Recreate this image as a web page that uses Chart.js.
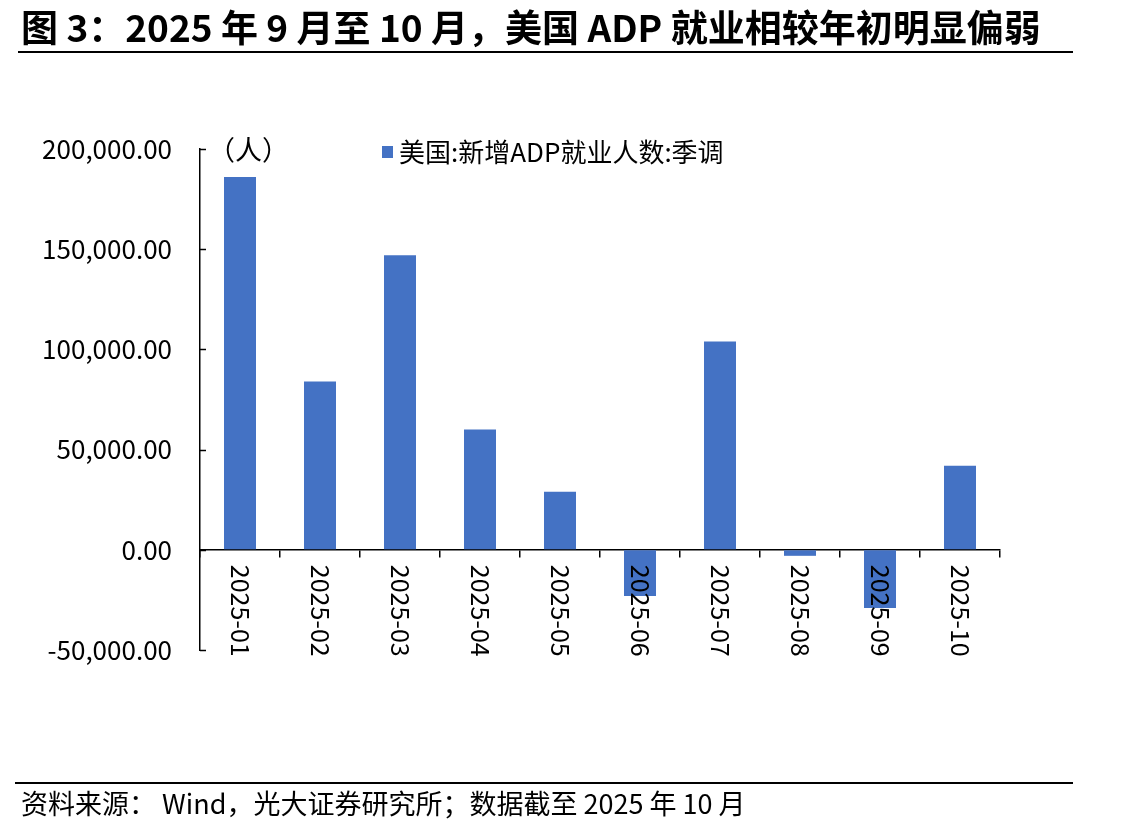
<!DOCTYPE html>
<html>
<head>
<meta charset="utf-8">
<script src="https://cdn.jsdelivr.net/npm/chart.js@4"></script>
<style>
  html, body { margin: 0; padding: 0; background: #fff; }
  #wrap { position: relative; width: 1143px; height: 831px; }
</style>
</head>
<body>
<div id="wrap"><canvas id="barChart" width="1143" height="831"></canvas></div>
<script>
var titleText = '图 3：2025 年 9 月至 10 月，美国 ADP 就业相较年初明显偏弱';
var sourceText = '资料来源： Wind，光大证券研究所；数据截至 2025 年 10 月';
var unitText = '（人）';
var seriesName = '美国:新增ADP就业人数:季调';
var months = ['2025-01', '2025-02', '2025-03', '2025-04', '2025-05', '2025-06', '2025-07', '2025-08', '2025-09', '2025-10'];
var adpChange = [186000, 84000, 147000, 60000, 29000, -23000, 104000, -3000, -29000, 42000];
var yTicks = [-50000, 0, 50000, 100000, 150000, 200000];

var fontCJK = '"Noto Sans CJK SC", "Noto Sans", sans-serif';
var barColor = '#4472C4';

var decor = {
    id: 'decor',
    afterDraw: function (chart) {
        var ctx = chart.ctx;
        var xs = chart.scales.x, ys = chart.scales.y;
        ctx.save();
        ctx.fillStyle = '#000';
        // title
        ctx.font = 'bold 37px ' + fontCJK;
        ctx.textBaseline = 'alphabetic';
        ctx.textAlign = 'left';
        ctx.fillText(titleText, 21, 42);
        ctx.fillRect(18, 51, 1055, 2);
        // footer
        ctx.fillRect(15, 782, 1058, 2);
        ctx.font = '27px ' + fontCJK;
        ctx.fillText(sourceText, 21, 814);
        // unit + legend
        ctx.font = '27px ' + fontCJK;
        ctx.fillText(unitText, 208, 160);
        ctx.fillStyle = barColor;
        ctx.fillRect(382, 146, 11, 12);
        ctx.fillStyle = '#000';
        ctx.font = '26px ' + fontCJK;
        ctx.textBaseline = 'middle';
        ctx.fillText(seriesName, 399, 152);
        // inward ticks on y axis
        ctx.strokeStyle = '#000';
        ctx.lineWidth = 1.5;
        yTicks.forEach(function (v) {
            var py = Math.round(ys.getPixelForValue(v)) + 0.5;
            ctx.beginPath();
            ctx.moveTo(xs.left, py);
            ctx.lineTo(xs.left + 6, py);
            ctx.stroke();
        });
        // x labels, rotated clockwise, hanging below the zero line
        var y0 = ys.getPixelForValue(0);
        ctx.font = '25px ' + fontCJK;
        ctx.textAlign = 'left';
        ctx.textBaseline = 'middle';
        months.forEach(function (m, i) {
            var px = xs.getPixelForValue(i);
            ctx.save();
            ctx.translate(px, y0 + 15);
            ctx.rotate(Math.PI / 2);
            ctx.fillText(m, 0, 0);
            ctx.restore();
        });
        ctx.restore();
    }
};

var ctx = document.getElementById('barChart').getContext('2d');
var myChart = new Chart(ctx, {
    type: 'bar',
    data: {
        labels: months,
        datasets: [{
            label: seriesName,
            data: adpChange,
            backgroundColor: barColor,
            borderWidth: 0,
            categoryPercentage: 1,
            barPercentage: 0.4
        }]
    },
    options: {
        responsive: false,
        animation: false,
        layout: { padding: { left: 0, top: 149, right: 143, bottom: 181 } },
        plugins: { legend: { display: false }, tooltip: { enabled: false } },
        scales: {
            x: {
                position: { y: 0 },
                ticks: { display: false },
                grid: { drawOnChartArea: false, drawTicks: true, tickLength: 7, color: '#000', lineWidth: 1.5 },
                border: { display: true, color: '#000', width: 1.5 }
            },
            y: {
                min: -50000,
                max: 200000,
                afterFit: function (scale) { scale.width = 200; },
                afterBuildTicks: function (scale) {
                    scale.ticks = yTicks.map(function (v) { return { value: v }; });
                },
                ticks: {
                    padding: 28,
                    color: '#000',
                    font: { family: fontCJK, size: 26 },
                    callback: function (v) {
                        return v.toLocaleString('en-US', { minimumFractionDigits: 2, maximumFractionDigits: 2 });
                    }
                },
                grid: { display: true, drawOnChartArea: false, drawTicks: false },
                border: { display: true, color: '#000', width: 1.5 }
            }
        }
    },
    plugins: [decor]
});
</script>
</body>
</html>
